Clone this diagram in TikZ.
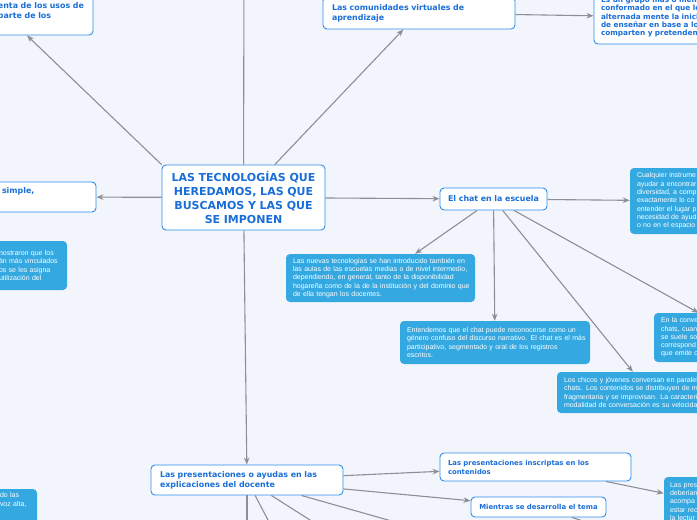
\documentclass[tikz,border=0pt]{standalone}
\usepackage{fontspec}
\setmainfont{DejaVu Sans}
\newfontfamily\blueff{Liberation Sans}
\usetikzlibrary{arrows.meta}
\definecolor{bgc}{RGB}{243,245,252}
\definecolor{bordc}{RGB}{45,140,235}
\definecolor{wtext}{RGB}{25,110,215}
\definecolor{bfill}{RGB}{52,168,224}
\definecolor{lnc}{RGB}{140,143,150}
\newcommand\Ln[1]{\mbox{#1}}
\begin{document}
\begin{tikzpicture}[x=1pt,y=-1pt,
  wbox/.style={draw=bordc, line width=0.9pt, fill=white, rounded corners=4pt, text=wtext,
    font=\bfseries\fontsize{7.9}{10}\selectfont, inner xsep=8pt, inner ysep=0pt, align=left},
  wsmall/.style={font=\bfseries\fontsize{6.9}{9}\selectfont},
  bbox/.style={fill=bfill, rounded corners=4pt, text=white,
    font=\blueff\fontsize{7.0}{8.3}\selectfont, inner xsep=7pt, inner ysep=0pt, align=left},
  conn/.style={draw=lnc, line width=1.1pt, -{Stealth[length=7pt,width=5.5pt]}}]
\useasboundingbox (0,0) rectangle (697,520);
\fill[bgc] (0,0) rectangle (697,520);

% white nodes
\node[wbox, font=\bfseries\fontsize{11}{13.7}\selectfont, align=center, text width=147pt, minimum width=163pt, minimum height=65pt] (ctr) at (243.5,197.5) {LAS TECNOLOGÍAS QUE\\HEREDAMOS, LAS QUE\\BUSCAMOS Y LAS QUE\\SE IMPONEN};
\node[wbox, text width=87pt, minimum width=103pt, minimum height=47pt] (tl) at (41.5,11.5) {\Ln{enta de los usos de}\\\Ln{parte de los}};
\node[wbox, text width=86pt, minimum width=102pt, minimum height=30pt] (lm) at (45,197) {simple,\\\strut};
\node[wbox, inner xsep=9pt, text width=174pt, minimum width=192pt, minimum height=32pt] (com) at (419,13) {\Ln{Las comunidades virtuales de}\\\Ln{aprendizaje}};
\node[wbox, inner xsep=7pt, font=\bfseries\fontsize{7.3}{8.3}\selectfont, text width=136pt, minimum width=150pt, minimum height=54pt] (tr) at (669,17) {\Ln{Es un grupo más o menos}\\\Ln{conformado en el que lo}\\\Ln{alternada mente la inicia}\\\Ln{de enseñar en base a los}\\\Ln{comparten y pretenden}};
\node[wbox, align=center, inner xsep=4pt, text width=99pt, minimum width=107pt, minimum height=22pt] (chat) at (493.5,199) {El chat en la escuela};
\node[wbox, inner xsep=9pt, text width=174pt, minimum width=192pt, minimum height=30pt] (pres) at (247,480) {\Ln{Las presentaciones o ayudas en las}\\\Ln{explicaciones del docente}};
\node[wbox, wsmall, text width=175pt, minimum width=191pt, minimum height=28pt] (insc) at (535.5,467) {\Ln{Las presentaciones inscriptas en los}\\\Ln{contenidos}};
\node[wbox, wsmall, align=center, inner xsep=4pt, text width=127pt, minimum width=135pt, minimum height=20pt] (mien) at (538.5,507) {Mientras se desarrolla el tema};

% blue nodes
\node[bbox, text width=126pt, minimum width=140pt, minimum height=66pt] (cual) at (700,201) {\Ln{Cualquier instrume}\\\Ln{ayudar a encontrar}\\\Ln{diversidad, a comp}\\\Ln{exactamente lo co}\\\Ln{entender el lugar p}\\\Ln{necesidad de ayud}\\\Ln{o no en el espacio}};
\node[bbox, text width=175pt, minimum width=189pt, minimum height=48pt] (nuev) at (380.5,278) {\Ln{Las nuevas tecnologías se han introducido también en}\\\Ln{las aulas de las escuelas medias o de nivel intermedio,}\\\Ln{dependiendo, en general, tanto de la disponibilidad}\\\Ln{hogareña como de la de la institución y del dominio que}\\\Ln{de ella tengan los docentes.}};
\node[bbox, text width=176pt, minimum width=190pt, minimum height=43pt] (ent) at (495,342.5) {\Ln{Entendemos que el chat puede reconocerse como un}\\\Ln{género confuso del discurso narrativo. El chat es el más}\\\Ln{participativo, segmentado y oral de los registros}\\\Ln{escritos.}};
\node[bbox, text width=164pt, minimum width=178pt, minimum height=49pt] (conv) at (743,337.5) {\Ln{En la conve}\\\Ln{chats, cuan}\\\Ln{se suele so}\\\Ln{correspond}\\\Ln{que emite c}};
\node[bbox, text width=171pt, minimum width=185pt, minimum height=41pt] (chic) at (649.5,392.5) {\Ln{Los chicos y jóvenes conversan en paralel}\\\Ln{chats. Los contenidos se distribuyen de ma}\\\Ln{fragmentaria y se improvisan. La caracterís}\\\Ln{modalidad de conversación es su velocidad}};
\node[bbox, inner xsep=4pt, text width=64pt, minimum width=72pt, minimum height=49pt] (lb) at (31,265.5) {\Ln{nostraron que los}\\\Ln{án más vinculados}\\\Ln{os se les asigna}\\\Ln{utilización del}};
\node[bbox, inner xsep=6pt, text width=68pt, minimum width=80pt, minimum height=49pt] (br) at (704,501.5) {\Ln{Las pres}\\\Ln{deberían}\\\Ln{acompa}\\\Ln{estar rec}\\\Ln{la lectur}};
\node[bbox, inner xsep=6pt, text width=31pt, minimum width=43pt, minimum height=40pt] (bl) at (15.5,509) {\Ln{do las}\\\Ln{voz alta,}\\\strut\\\strut};

% off-canvas ends
\coordinate (upc) at (244,-40);
\coordinate (c1) at (247,560);
\coordinate (c2) at (289,560);
\coordinate (c3) at (373,560);
\coordinate (c4) at (529,560);
\coordinate (c5) at (663,546);

% connectors
\draw[conn] (ctr) -- (upc);
\draw[conn] (ctr.north west) -- ([xshift=-14.5pt]tl.south);
\draw[conn] (ctr) -- (com);
\draw[conn] (ctr) -- (lm);
\draw[conn] (ctr) -- (chat);
\draw[conn] (ctr) -- (pres);
\draw[conn] (com) -- (tr);
\draw[conn] (chat) -- (cual);
\draw[conn] (chat) -- (nuev);
\draw[conn] (chat) -- (ent);
\draw[conn] (chat) -- (conv);
\draw[conn] (chat) -- (chic);
\draw[conn] (pres) -- (insc);
\draw[conn] (pres) -- (mien);
\draw[conn] (insc) -- (br);
\draw[conn] (pres) -- (c1);
\draw[conn] (pres) -- (c2);
\draw[conn] (pres) -- (c3);
\draw[conn] (pres) -- (c4);
\draw[conn] (mien) -- (c5);
\end{tikzpicture}
\end{document}
